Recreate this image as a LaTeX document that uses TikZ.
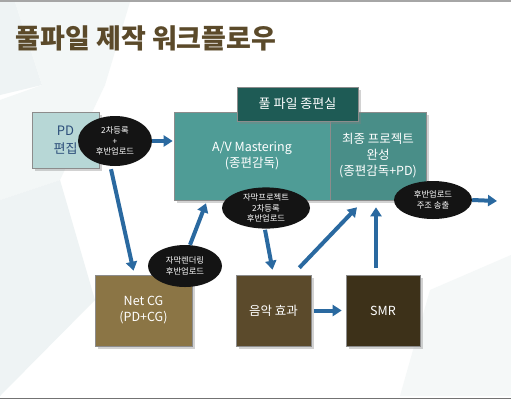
\documentclass[tikz,border=0pt]{standalone}
\usepackage{fontspec}
\setmainfont{Noto Sans CJK KR}
\usepackage{tikz}
\usetikzlibrary{arrows.meta,shapes.geometric,shadows}

\definecolor{titlebrown}{HTML}{5B4A2A}
\definecolor{pdfill}{HTML}{B7D7D6}
\definecolor{pdtext}{HTML}{2C4E7A}
\definecolor{avfill}{HTML}{4F9C96}
\definecolor{finalfill}{HTML}{498E88}
\definecolor{roomfill}{HTML}{1E5B55}
\definecolor{cgfill}{HTML}{8B7545}
\definecolor{sfxfill}{HTML}{5B4A2B}
\definecolor{smrfill}{HTML}{3D3119}
\definecolor{flowblue}{HTML}{2A69A0}
\definecolor{bgtint}{HTML}{EEF3F4}

\tikzset{
  box/.style={rectangle, inner sep=0pt, align=center, text=white,
    draw=black!45, line width=0.6pt,
    drop shadow={opacity=0.35, shadow xshift=2.5pt, shadow yshift=-2.5pt},
    font=\fontsize{12.5}{16}\selectfont},
  bubble/.style={ellipse, fill=black!92, inner sep=0pt, align=center,
    text=white, font=\fontsize{8.3}{10.8}\selectfont},
  flow/.style={draw=flowblue, line width=4pt,
    -{Triangle[width=11pt,length=9pt]}}
}

\begin{document}
\begin{tikzpicture}[x=1pt,y=-1pt]
  \useasboundingbox (0,0) rectangle (511,400);
  % faint backdrop
  \fill[white] (0,0) rectangle (511,400);
  \fill[bgtint] (0,2) -- (15,2) -- (42,85) -- (0,95) -- cycle;
  \fill[bgtint!70] (130,2) -- (105,85) -- (60,180) -- (0,200) -- (0,100) -- (42,85) -- (15,2) -- cycle;
  \fill[bgtint] (0,200) -- (60,180) -- (95,300) -- (0,396) -- cycle;
  \fill[bgtint!60] (430,290) -- (511,255) -- (511,396) -- (400,396) -- cycle;
  \draw[black!35, line width=1.5pt] (0,0.75) -- (511,0.75);
  \draw[black!55, line width=1.5pt] (0,398.5) -- (511,398.5);

  \node[text=titlebrown, anchor=west, font=\fontsize{27}{30}\selectfont\bfseries]
    (title) at (12,38) {풀파일 제작 워크플로우};

  % boxes
  \node[box, fill=pdfill, text=pdtext, minimum width=67, minimum height=56,
    font=\fontsize{13}{18}\selectfont] (pd) at (65.5,140) {PD\\편집};
  \node[box, fill=avfill, minimum width=156, minimum height=88] (av) at (252,156)
    {A/V Mastering\\(종편감독)};
  \node[box, fill=finalfill, minimum width=96, minimum height=88] (final) at (378,156)
    {최종 프로젝트\\완성\\(종편감독+PD)};
  \node[box, fill=roomfill, minimum width=121, minimum height=34,
    font=\fontsize{13}{16}\selectfont] (room) at (297.5,104) {풀 파일 종편실};
  \node[box, fill=cgfill, minimum width=97, minimum height=71] (netcg) at (143.5,310.5)
    {Net CG\\(PD+CG)};
  \node[box, fill=sfxfill, minimum width=75, minimum height=71] (sfx) at (273.5,310.5)
    {음악 효과};
  \node[box, fill=smrfill, minimum width=74, minimum height=71] (smr) at (383,310.5)
    {SMR};

  % bubbles
  \node[bubble, minimum width=74, minimum height=50] (regell) at (115,141)
    {2차등록\\+\\후반업로드};
  \node[bubble, minimum width=88, minimum height=40] (subell) at (266,208)
    {자막프로젝트\\2차등록\\후반업로드};
  \node[bubble, minimum width=74, minimum height=42] (rendell) at (185,266)
    {자막렌더링\\후반업로드};
  \node[bubble, minimum width=78, minimum height=38] (outell) at (433,200)
    {후반업로드\\주조 송출};
  \coordinate (onair) at (497,201);

  % flows
  \draw[flow] (regell.east) -- ([xshift=-1pt]av.west |- regell.east);
  \draw[flow] ([xshift=-4pt,yshift=-3pt]regell.south) -- ([xshift=-10pt,yshift=4pt]netcg.north);
  \draw[flow] ([xshift=5pt]rendell.north) -- ([xshift=-46pt,yshift=-3pt]av.south);
  \draw[flow] ([xshift=-1pt,yshift=-1pt]subell.south) -- ([xshift=-1pt,yshift=5pt]sfx.north);
  \draw[flow] ([xshift=-12pt,yshift=7pt]sfx.north east) -- ([xshift=-21pt,yshift=-7pt]final.south);
  \draw[flow] ([xshift=-7pt,yshift=7pt]smr.north) -- ([xshift=-2pt,yshift=-7pt]final.south);
  \draw[flow] ([xshift=3pt]sfx.east) -- ([xshift=-4pt]smr.west);
  \draw[flow] (outell.east) -- (onair);
\end{tikzpicture}
\end{document}
